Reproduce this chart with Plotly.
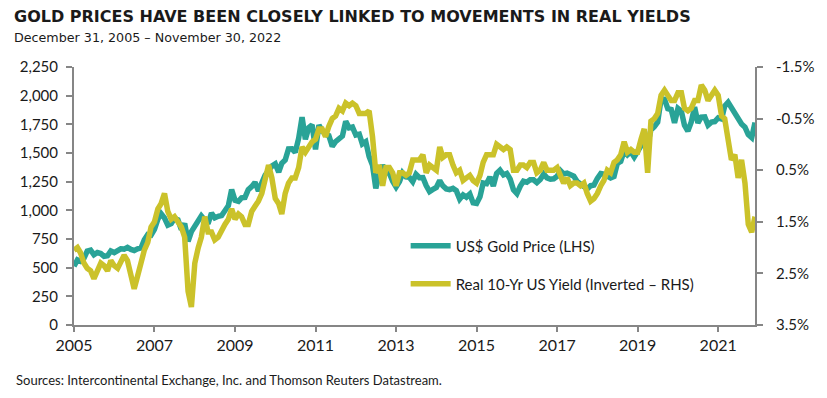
import pandas as pd
import plotly.graph_objects as go

# Monthly month-end observations, Dec 2005 .. Nov 2022
try:
    dates = pd.date_range("2005-12-31", "2022-11-30", freq="ME")
except Exception:
    dates = pd.date_range("2005-12-31", "2022-11-30", freq="M")

gold_price = [
    513,
    568, 556, 582, 644, 653, 613, 632, 623, 599, 604, 646, 632,
    650, 665, 662, 677, 659, 650, 665, 672, 743, 789, 783, 834,
    923, 971, 933, 871, 885, 930, 918, 833, 884, 730, 814, 870,
    919, 952, 916, 883, 975, 934, 948, 955, 996, 1040, 1182, 1088,
    1078, 1109, 1113, 1180, 1207, 1244, 1169, 1246, 1307, 1346, 1386, 1405,
    1333, 1410, 1439, 1535, 1536, 1505, 1628, 1813, 1620, 1722, 1746, 1531,
    1744, 1696, 1662, 1651, 1558, 1598, 1622, 1648, 1776, 1719, 1726, 1657,
    1664, 1579, 1598, 1469, 1394, 1192, 1314, 1394, 1327, 1324, 1253, 1204,
    1251, 1326, 1291, 1288, 1250, 1315, 1285, 1286, 1216, 1164, 1182, 1199,
    1260, 1214, 1187, 1180, 1191, 1172, 1098, 1135, 1115, 1142, 1065, 1060,
    1118, 1238, 1232, 1290, 1212, 1321, 1350, 1309, 1322, 1272, 1178, 1146,
    1212, 1254, 1245, 1266, 1266, 1242, 1269, 1316, 1283, 1271, 1275, 1297,
    1345, 1318, 1325, 1315, 1298, 1251, 1224, 1201, 1187, 1215, 1220, 1279,
    1321, 1316, 1292, 1283, 1295, 1409, 1427, 1520, 1485, 1511, 1465, 1515,
    1582, 1609, 1577, 1702, 1729, 1768, 1971, 1968, 1887, 1879, 1762, 1888,
    1863, 1743, 1691, 1768, 1900, 1763, 1813, 1815, 1743, 1769, 1774, 1806,
    1797, 1909, 1942, 1896, 1842, 1817, 1753, 1726, 1660, 1634, 1765,
]

real_yield = [
    2.05,
    2.00, 2.10, 2.30, 2.40, 2.45, 2.60, 2.45, 2.30, 2.35, 2.45, 2.25, 2.35,
    2.40, 2.25, 2.15, 2.25, 2.50, 2.80, 2.55, 2.25, 2.05, 1.90, 1.60, 1.50,
    1.25, 1.15, 0.95, 1.30, 1.45, 1.40, 1.50, 1.60, 1.80, 2.85, 3.15, 2.30,
    2.00, 1.80, 1.40, 1.70, 1.70, 1.85, 1.80, 1.65, 1.55, 1.45, 1.25, 1.45,
    1.35, 1.40, 1.55, 1.55, 1.30, 1.20, 1.10, 0.95, 0.65, 0.40, 0.65, 1.05,
    1.15, 1.35, 0.95, 0.75, 0.65, 0.65, 0.45, 0.05, 0.15, 0.05, -0.05, -0.10,
    -0.30, -0.30, -0.15, -0.35, -0.50, -0.55, -0.70, -0.65, -0.80, -0.75, -0.80, -0.75,
    -0.60, -0.60, -0.60, -0.65, -0.15, 0.55, 0.40, 0.80, 0.45, 0.45, 0.55, 0.80,
    0.55, 0.55, 0.60, 0.55, 0.30, 0.30, 0.30, 0.20, 0.55, 0.40, 0.45, 0.50,
    0.05, 0.25, 0.20, 0.20, 0.40, 0.55, 0.50, 0.70, 0.65, 0.60, 0.70, 0.75,
    0.60, 0.35, 0.20, 0.20, 0.20, 0.00, 0.05, 0.10, 0.05, 0.10, 0.50, 0.50,
    0.40, 0.40, 0.45, 0.35, 0.35, 0.55, 0.50, 0.35, 0.50, 0.50, 0.50, 0.45,
    0.65, 0.75, 0.65, 0.80, 0.75, 0.75, 0.80, 0.75, 0.95, 1.10, 1.05, 0.95,
    0.80, 0.70, 0.50, 0.55, 0.35, 0.30, 0.20, -0.05, 0.15, 0.10, 0.15, 0.15,
    -0.10, -0.30, 0.55, -0.45, -0.50, -0.60, -0.95, -1.05, -0.95, -0.85, -0.85, -1.00,
    -1.00, -0.70, -0.65, -0.70, -0.85, -0.85, -1.15, -1.05, -0.85, -0.95, -1.05, -0.95,
    -0.55, -0.50, -0.05, 0.30, 0.20, 0.65, 0.30, 0.75, 1.55, 1.70, 1.40,
]

x_tick_dates = ["2005-12-31", "2007-12-31", "2009-12-31", "2011-12-31", "2013-12-31",
                "2015-12-31", "2017-12-31", "2019-12-31", "2021-12-31"]
x_tick_labels = ["2005", "2007", "2009", "2011", "2013", "2015", "2017", "2019", "2021"]
yield_ticks = [-1.5, -0.5, 0.5, 1.5, 2.5, 3.5]
yield_tick_labels = ["-1.5%", "-0.5%", "0.5%", "1.5%", "2.5%", "3.5%"]

TEAL = "#29A397"
YELLOW = "#CBC22A"
AXIS = "#868686"
TXT = "#1a1a1a"
TICKFONT = dict(family="Lato, Carlito, sans-serif", size=15, color=TXT)
XTICKFONT = dict(family="Liberation Sans Narrow, Arial Narrow, Lato, sans-serif", size=16, color=TXT)

fig = go.Figure()
fig.add_trace(go.Scatter(
    x=dates, y=gold_price, mode="lines", name="US$ Gold Price (LHS)",
    line=dict(color=TEAL, width=5.5), yaxis="y", legend="legend"))
fig.add_trace(go.Scatter(
    x=dates, y=real_yield, mode="lines", name="Real 10-Yr US Yield (Inverted – RHS)",
    line=dict(color=YELLOW, width=5.5), yaxis="y2", legend="legend2"))

legend_common = dict(font=dict(family="Lato, sans-serif", size=15, color=TXT),
                     bgcolor="rgba(0,0,0,0)", xanchor="left", yanchor="middle",
                     x=0.487, itemwidth=40)

fig.update_layout(
    width=827, height=398,
    margin=dict(l=62, r=80, t=59, b=81),
    paper_bgcolor="white", plot_bgcolor="white",
    showlegend=True,
    legend=dict(y=0.306, **legend_common),
    legend2=dict(y=0.159, **legend_common),
    xaxis=dict(
        type="date", range=["2005-12-31", "2022-11-30"],
        tickvals=x_tick_dates, ticktext=x_tick_labels,
        showgrid=False, zeroline=False,
        showline=True, linecolor=AXIS, linewidth=2,
        ticks="outside", ticklen=5, tickwidth=2, tickcolor=AXIS,
        tickfont=XTICKFONT,
    ),
    yaxis=dict(
        range=[0, 2250], dtick=250, tick0=0, tickformat=",",
        showgrid=False, zeroline=False,
        showline=True, linecolor=AXIS, linewidth=2,
        ticks="outside", ticklen=6, tickwidth=2, tickcolor=AXIS,
        tickfont=TICKFONT, ticklabelstandoff=5,
    ),
    yaxis2=dict(
        range=[3.5, -1.5], overlaying="y", side="right",
        tickvals=yield_ticks, ticktext=yield_tick_labels,
        showgrid=False, zeroline=False,
        showline=True, linecolor=AXIS, linewidth=2,
        ticks="outside", ticklen=6, tickwidth=2, tickcolor=AXIS,
        tickfont=TICKFONT, ticklabelstandoff=10,
    ),
    annotations=[
        dict(text="GOLD PRICES HAVE BEEN CLOSELY LINKED TO MOVEMENTS IN REAL YIELDS",
             xref="paper", yref="paper", x=-0.0905, y=1.194, xanchor="left", yanchor="middle",
             showarrow=False, font=dict(family="DejaVu Sans, sans-serif", size=16, color=TXT, weight="bold")),
        dict(text="December 31, 2005 – November 30, 2022",
             xref="paper", yref="paper", x=-0.0905, y=1.116, xanchor="left", yanchor="middle",
             showarrow=False, font=dict(family="DejaVu Sans, sans-serif", size=12.7, color=TXT)),
        dict(text="Sources: Intercontinental Exchange, Inc. and Thomson Reuters Datastream.",
             xref="paper", yref="paper", x=-0.0876, y=-0.213, xanchor="left", yanchor="middle",
             showarrow=False, font=dict(family="Lato, sans-serif", size=13, color=TXT)),
    ],
)

fig.write_html("out.html")
